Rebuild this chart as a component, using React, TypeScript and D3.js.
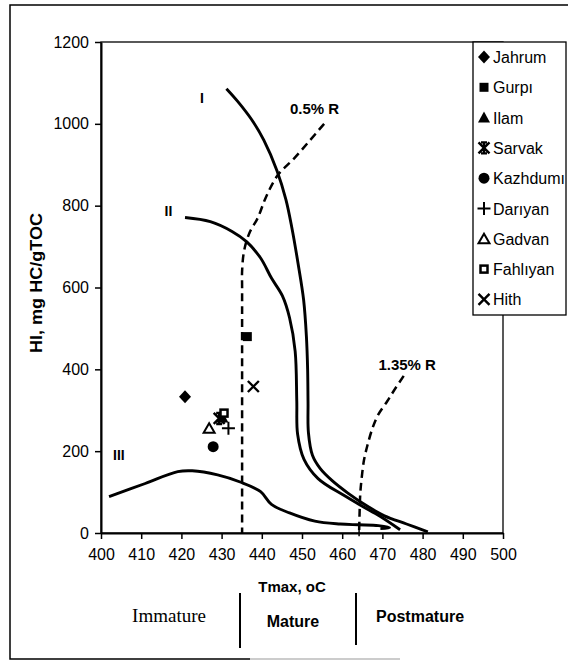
import React, { useEffect, useRef } from 'react';
import * as d3 from 'd3';

// Tick values
const xTicks = [400, 410, 420, 430, 440, 450, 460, 470, 480, 490, 500];
const yTicks = [0, 200, 400, 600, 800, 1000, 1200];

// Kerogen type curves [Tmax, HI]
const typeI: [number, number][] = [
  [431.2, 1086], [434, 1055], [437.5, 1010], [440.5, 960], [443.8, 885], [446, 815],
  [447.5, 745], [449, 660], [450.4, 570], [451.1, 480], [451.4, 400], [451.5, 320],
  [451.6, 245], [452.6, 190], [454.5, 158], [457.5, 128], [461.5, 97], [466.5, 64],
  [470.5, 42], [476, 22], [481.3, 3],
];
const typeII: [number, number][] = [
  [420.9, 771], [427.2, 761], [432.6, 737], [436.2, 712], [439.7, 672], [442.4, 623],
  [445.1, 580], [446.9, 526], [448.3, 444], [448.7, 323], [448.9, 242], [450.5, 180],
  [454, 133], [460.4, 92], [464.9, 66], [469.4, 41], [474.4, 8],
];
const typeIII: [number, number][] = [
  [402, 89], [411, 121], [419.1, 150], [422.7, 152], [429, 142], [434.8, 124],
  [439.7, 101], [442.4, 70], [446.9, 49], [453.2, 29], [459.5, 22], [464, 20],
  [469, 18], [471.8, 13], [469.5, 11],
];
// Vitrinite reflectance isolines
const ro05: [number, number][] = [
  [455.5, 1000], [452, 960], [448, 915], [444, 875], [441, 820], [439, 770],
  [437, 735], [435.6, 690], [435.1, 640], [435.1, 600], [435.1, 0],
];
const ro135: [number, number][] = [
  [475.3, 384], [473, 350], [471.2, 322], [469, 290], [467.6, 258], [466.3, 215],
  [465.4, 177], [464.8, 130], [464.5, 97], [464.3, 40], [464.2, 0],
];

// Samples
const formations = ['Jahrum', 'Gurpı', 'Ilam', 'Sarvak', 'Kazhdumı', 'Darıyan', 'Gadvan', 'Fahlıyan', 'Hith'];
const markers = ['diamond', 'square', 'triangle', 'star', 'circle', 'plus', 'triOpen', 'sqOpen', 'x'];
const tmax = [420.9, 436.4, 430.2, 429.4, 427.9, 431.7, 426.9, 430.6, 437.9];
const hi = [333, 480, 282, 280, 211, 256, 256, 293, 358];

const curveLabels = ['I', 'II', 'III', '0.5% R', '1.35% R'];
const curveLabelX = [424.6, 415.8, 403, 447, 469];
const curveLabelY = [1050, 775, 178, 1024, 398];

const drawMarker = (g: any, type: string, cx: number, cy: number) => {
  const s = 5.5;
  if (type === 'diamond') {
    g.append('path').attr('d', `M${cx},${cy - 6.5}L${cx + 6},${cy}L${cx},${cy + 6.5}L${cx - 6},${cy}Z`).attr('fill', '#000');
  } else if (type === 'square') {
    g.append('rect').attr('x', cx - 4.5).attr('y', cy - 4.5).attr('width', 9).attr('height', 9).attr('fill', '#000');
  } else if (type === 'triangle') {
    g.append('path').attr('d', `M${cx},${cy - 6}L${cx + 6},${cy + 5}L${cx - 6},${cy + 5}Z`).attr('fill', '#000');
  } else if (type === 'star') {
    g.append('path').attr('d', `M${cx - s},${cy - s}L${cx + s},${cy + s}M${cx + s},${cy - s}L${cx - s},${cy + s}M${cx},${cy - s}L${cx},${cy + s}M${cx - 3},${cy - s}H${cx + 3}M${cx - 3},${cy + s}H${cx + 3}`)
      .attr('stroke', '#000').attr('stroke-width', 2.4).attr('fill', 'none');
  } else if (type === 'circle') {
    g.append('circle').attr('cx', cx).attr('cy', cy).attr('r', 5.5).attr('fill', '#000');
  } else if (type === 'plus') {
    g.append('path').attr('d', `M${cx - 6.5},${cy}H${cx + 6.5}M${cx},${cy - 6.5}V${cy + 6.5}`)
      .attr('stroke', '#000').attr('stroke-width', 2).attr('fill', 'none');
  } else if (type === 'triOpen') {
    g.append('path').attr('d', `M${cx},${cy - 5}L${cx + 5.5},${cy + 4.5}L${cx - 5.5},${cy + 4.5}Z`)
      .attr('stroke', '#000').attr('stroke-width', 2).attr('fill', '#fff');
  } else if (type === 'sqOpen') {
    g.append('rect').attr('x', cx - 3.5).attr('y', cy - 3.5).attr('width', 7).attr('height', 7)
      .attr('stroke', '#000').attr('stroke-width', 2.5).attr('fill', '#fff');
  } else if (type === 'x') {
    g.append('path').attr('d', `M${cx - s},${cy - s}L${cx + s},${cy + s}M${cx + s},${cy - s}L${cx - s},${cy + s}`)
      .attr('stroke', '#000').attr('stroke-width', 2.4).attr('fill', 'none');
  }
};

const App = () => {
  const ref = useRef<SVGSVGElement>(null);

  useEffect(() => {
    const svg = d3.select(ref.current);
    svg.selectAll('*').remove();

    const x = d3.scaleLinear().domain([400, 500]).range([101, 503]);
    const y = d3.scaleLinear().domain([0, 1200]).range([533, 42]);
    const font = 'Arial, "Liberation Sans", sans-serif';

    // outer frame
    svg.append('path').attr('d', 'M568,5H10V659H250').attr('fill', 'none').attr('stroke', '#000').attr('stroke-width', 1.5);
    svg.append('path').attr('d', 'M250,659H400').attr('stroke', '#999').attr('stroke-width', 1);

    // plot border
    svg.append('rect').attr('x', x(400)).attr('y', y(1200)).attr('width', x(500) - x(400)).attr('height', y(0) - y(1200))
      .attr('fill', 'none').attr('stroke', '#000').attr('stroke-width', 1.3);

    // axes
    const xAxis = svg.append('g').attr('transform', `translate(0,${y(0)})`)
      .call(d3.axisBottom(x).tickValues(xTicks).tickFormat(d3.format('d')).tickSize(6).tickSizeOuter(0).tickPadding(10));
    const yAxis = svg.append('g').attr('transform', `translate(${x(400)},0)`)
      .call(d3.axisLeft(y).tickValues(yTicks).tickFormat(d3.format('d')).tickSize(6).tickSizeOuter(0).tickPadding(6));
    [xAxis, yAxis].forEach(a => {
      a.select('.domain').attr('stroke-width', 2);
      a.selectAll('line').attr('stroke-width', 1.5);
      a.selectAll('text').attr('font-family', font).attr('font-size', 16).attr('fill', '#000');
    });

    const line = d3.line<[number, number]>().curve(d3.curveCatmullRom.alpha(0.5)).x(d => x(d[0])).y(d => y(d[1]));
    [typeI, typeII, typeIII].forEach(c => {
      svg.append('path').datum(c).attr('d', line).attr('fill', 'none').attr('stroke', '#000').attr('stroke-width', 2.9);
    });
    [ro05, ro135].forEach(c => {
      svg.append('path').datum(c).attr('d', line).attr('fill', 'none').attr('stroke', '#000')
        .attr('stroke-width', 2.5).attr('stroke-dasharray', '8,5');
    });
    svg.append('line').attr('x1', x(464.2)).attr('x2', x(464.2)).attr('y1', y(25)).attr('y2', y(-8))
      .attr('stroke', '#000').attr('stroke-width', 1.5);

    curveLabels.forEach((t, i) => {
      svg.append('text').attr('x', x(curveLabelX[i])).attr('y', y(curveLabelY[i]))
        .attr('font-family', font).attr('font-weight', 'bold').attr('font-size', i < 3 ? 14 : 15)
        .text(t);
    });

    // samples
    const pts = svg.append('g');
    tmax.forEach((t, i) => drawMarker(pts, markers[i], x(t), y(hi[i])));

    // legend
    const lg = svg.append('g');
    lg.append('rect').attr('x', 473).attr('y', 42).attr('width', 93).attr('height', 273)
      .attr('fill', '#fff').attr('stroke', '#000').attr('stroke-width', 1.3);
    const clip = svg.append('defs').append('clipPath').attr('id', 'lgclip');
    clip.append('rect').attr('x', 473).attr('y', 42).attr('width', 92).attr('height', 273);
    formations.forEach((f, i) => {
      const cy = 57 + i * 30.3;
      drawMarker(lg, markers[i], 484, cy);
      lg.append('text').attr('x', 493).attr('y', cy + 6).attr('clip-path', 'url(#lgclip)')
        .attr('font-family', font).attr('font-size', 16).text(f);
    });

    // axis titles
    svg.append('text').attr('transform', 'translate(42,283) rotate(-90)').attr('text-anchor', 'middle')
      .attr('font-family', font).attr('font-weight', 'bold').attr('font-size', 16)
      .attr('textLength', 140).attr('lengthAdjust', 'spacingAndGlyphs').text('HI, mg HC/gTOC');
    svg.append('text').attr('x', 292).attr('y', 592).attr('text-anchor', 'middle')
      .attr('font-family', font).attr('font-weight', 'bold').attr('font-size', 15).text('Tmax, oC');

    // maturity zones
    svg.append('text').attr('x', 169).attr('y', 622).attr('text-anchor', 'middle')
      .attr('font-family', '"Liberation Serif", "Times New Roman", serif').attr('font-size', 19).text('Immature');
    svg.append('line').attr('x1', 240).attr('x2', 240).attr('y1', 593).attr('y2', 648).attr('stroke', '#000').attr('stroke-width', 2);
    svg.append('text').attr('x', 293).attr('y', 627).attr('text-anchor', 'middle')
      .attr('font-family', font).attr('font-weight', 'bold').attr('font-size', 16).text('Mature');
    svg.append('line').attr('x1', 356).attr('x2', 356).attr('y1', 593).attr('y2', 645).attr('stroke', '#000').attr('stroke-width', 2);
    svg.append('text').attr('x', 376).attr('y', 622)
      .attr('font-family', font).attr('font-weight', 'bold').attr('font-size', 16).text('Postmature');
  }, []);

  return (
    <svg ref={ref} width={568} height={662}
      style={{ position: 'absolute', left: 0, top: 0, background: '#fff' }} />
  );
};

export default App;
